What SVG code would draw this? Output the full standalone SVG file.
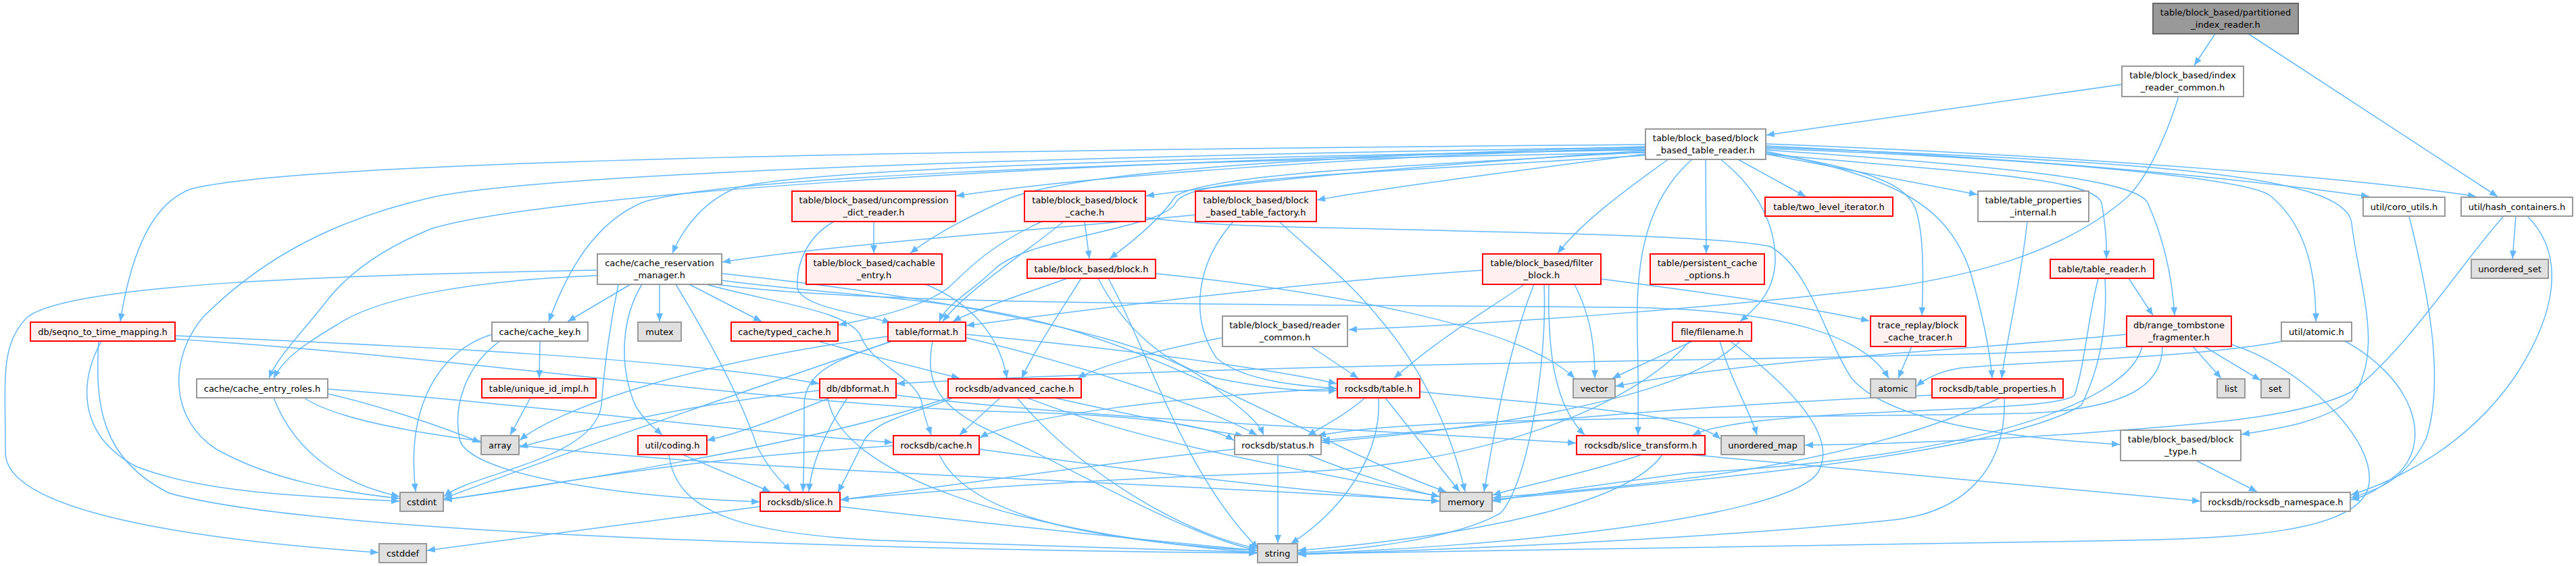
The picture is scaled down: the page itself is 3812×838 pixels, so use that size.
<svg xmlns="http://www.w3.org/2000/svg" width="3812" height="838" viewBox="0 0 3812 838">
<style>
.e{fill:none;stroke:#63b8ff;stroke-width:1.5;marker-end:url(#ah)}
rect{stroke-width:2}
.w rect{fill:#ffffff;stroke:#999999}
.g rect{fill:#e0e0e0;stroke:#999999}
.r rect{fill:#fff0f0;stroke:#ff0000}
.k rect{fill:#999999;stroke:#666666}
text{font-family:"DejaVu Sans","Liberation Sans",sans-serif;font-size:13px;text-anchor:middle;fill:#000000}
</style>
<defs>
<marker id="ah" viewBox="0 0 12 10" refX="12" refY="5" markerWidth="12" markerHeight="10" markerUnits="userSpaceOnUse" orient="auto"><path d="M0,0L12,5L0,10z" fill="#63b8ff"/></marker>
</defs>
<rect width="3812" height="838" fill="#ffffff" stroke="none"/>
<g id="edges">
<path class="e" d="M3278,50L3247,97"/>
<path class="e" d="M3327,50L3696,291"/>
<path class="e" d="M3140,125L2614,200"/>
<path class="e" d="M3224,143C3200,220 3170,270 3150,290C3050,380 2900,410 2800,425C2500,460 2200,480 1996,488"/>
<path class="e" d="M2435,222C1800,232 1200,248 1090,278C1040,298 1010,340 995,375"/>
<path class="e" d="M2435,219C2000,232 1600,262 1415,290"/>
<path class="e" d="M2435,223C2150,242 1900,262 1696,290"/>
<path class="e" d="M2435,228C2250,252 2050,278 1949,296"/>
<path class="e" d="M2570,235L2672,291"/>
<path class="e" d="M2613,228L2926,288"/>
<path class="e" d="M2613,216C3000,235 3300,262 3506,291"/>
<path class="e" d="M2613,213C3100,232 3500,265 3664,291"/>
<path class="e" d="M2435,214C1500,222 450,235 282,280C215,305 190,400 178,476"/>
<path class="e" d="M2435,217C2000,230 1600,250 1490,295C1440,318 1385,345 1347,375"/>
<path class="e" d="M2435,225C2100,245 1800,255 1740,290C1720,320 1680,355 1642,383"/>
<path class="e" d="M2470,235C2400,285 2340,330 2305,375"/>
<path class="e" d="M2524,235L2525,375"/>
<path class="e" d="M2613,228C2900,255 3095,262 3110,300C3115,330 3118,360 3117,383"/>
<path class="e" d="M2435,226C1600,240 1050,265 950,300C880,330 840,400 812,476"/>
<path class="e" d="M2435,230C2000,258 1760,262 1740,300C1720,340 1520,350 1470,400C1440,430 1400,450 1390,476"/>
<path class="e" d="M2545,235C2590,270 2625,320 2627,380C2628,430 2600,455 2575,476"/>
<path class="e" d="M2613,226C2760,250 2820,270 2835,310C2848,350 2846,420 2844,467"/>
<path class="e" d="M2613,222C3000,248 3160,268 3178,300C3205,360 3215,420 3218,467"/>
<path class="e" d="M2613,220C3100,238 3330,268 3360,290C3420,340 3427,420 3427,476"/>
<path class="e" d="M2613,224C2800,262 2880,300 2915,400C2935,470 2945,520 2948,560"/>
<path class="e" d="M2613,218C3200,240 3470,260 3480,330C3490,420 3530,520 3480,590C3440,625 3370,635 3317,643"/>
<path class="e" d="M2505,235C2430,300 2420,400 2423,500C2425,570 2424,610 2424,644"/>
<path class="e" d="M2435,221C1500,240 800,290 640,338C560,370 510,410 480,450C440,500 410,530 398,560"/>
<path class="e" d="M2435,218C1500,232 800,258 640,292C470,330 370,400 300,470C250,530 250,620 320,665C400,710 500,728 591,738"/>
<path class="e" d="M884,400C500,407 100,420 40,470C0,510 8,560 8,670C8,760 300,800 560,818"/>
<path class="e" d="M884,408C700,415 560,440 500,480C450,510 420,530 405,560"/>
<path class="e" d="M933,421L840,476"/>
<path class="e" d="M976,421L976,476"/>
<path class="e" d="M1020,421L1127,476"/>
<path class="e" d="M950,421C920,470 915,540 940,600C955,625 970,635 980,644"/>
<path class="e" d="M915,421C905,470 895,530 890,600C880,680 700,700 657,735"/>
<path class="e" d="M1045,421C1150,450 1260,460 1275,500C1290,540 1360,560 1365,600C1368,620 1375,635 1378,644"/>
<path class="e" d="M1000,421C1060,520 1100,600 1120,660C1140,700 1160,715 1170,728"/>
<path class="e" d="M1068,405C1400,440 1700,500 1780,560C1830,600 1860,620 1870,644"/>
<path class="e" d="M1060,421C1300,455 2000,450 2400,455C2650,458 2760,500 2795,560"/>
<path class="e" d="M1068,415C1250,440 1450,440 1620,500C1800,560 2000,680 2140,728"/>
<path class="e" d="M1293,328L1293,375"/>
<path class="e" d="M1234,328C1195,350 1178,390 1180,425C1182,455 1280,465 1318,478"/>
<path class="e" d="M1605,328L1612,383"/>
<path class="e" d="M1542,328C1470,360 1430,400 1410,420C1380,450 1300,470 1241,481"/>
<path class="e" d="M1574,328C1510,380 1430,430 1395,476"/>
<path class="e" d="M1695,322C1780,334 1900,336 2000,338C2300,345 2550,350 2620,365C2680,400 2700,500 2740,560C2800,630 3000,650 3137,658"/>
<path class="e" d="M1769,318C1550,340 1250,360 1069,388"/>
<path class="e" d="M1825,328C1770,390 1760,470 1800,530C1840,565 1930,572 1978,575"/>
<path class="e" d="M1893,328C1950,380 2000,420 2040,470C2110,550 2150,650 2168,728"/>
<path class="e" d="M259,497C600,512 1000,530 1212,568"/>
<path class="e" d="M259,502C700,530 1150,600 1500,610C1700,615 1790,630 1826,652"/>
<path class="e" d="M150,505C120,560 110,640 200,690C300,730 450,735 591,742"/>
<path class="e" d="M146,505C140,600 150,680 250,730C500,800 1500,815 1860,819"/>
<path class="e" d="M1370,421C1440,450 1480,500 1490,560"/>
<path class="e" d="M1580,412C1500,440 1440,460 1410,476"/>
<path class="e" d="M1600,412C1570,460 1530,520 1512,560"/>
<path class="e" d="M1625,412C1660,480 1720,540 1800,560C1900,580 1950,580 1978,578"/>
<path class="e" d="M1710,405C1950,430 2250,480 2330,560"/>
<path class="e" d="M1640,412C1700,520 1750,700 1862,812"/>
<path class="e" d="M2256,421C2200,460 2130,500 2063,560"/>
<path class="e" d="M2270,421C2230,520 2210,650 2196,728"/>
<path class="e" d="M2285,421C2290,540 2260,720 2220,760C2150,800 2000,815 1921,818"/>
<path class="e" d="M2292,421C2290,520 2300,600 2345,644"/>
<path class="e" d="M2330,421C2350,460 2360,500 2360,560"/>
<path class="e" d="M2194,400C1900,420 1600,460 1430,482"/>
<path class="e" d="M2369,413C2500,430 2650,450 2766,475"/>
<path class="e" d="M3150,412L3186,467"/>
<path class="e" d="M3105,412C3090,470 3085,540 3070,585C3040,615 2600,600 2505,644"/>
<path class="e" d="M3115,412C3120,500 3100,560 3080,600C2950,680 2400,720 2209,740"/>
<path class="e" d="M799,505L798,560"/>
<path class="e" d="M728,495C650,520 600,600 615,728"/>
<path class="e" d="M740,505C690,540 670,600 680,650C690,700 900,735 1124,743"/>
<path class="e" d="M785,589L755,644"/>
<path class="e" d="M1210,505C1300,530 1380,550 1420,560"/>
<path class="e" d="M1429,495C1700,520 1900,550 1978,568"/>
<path class="e" d="M1429,500C1600,540 1780,600 1860,644"/>
<path class="e" d="M1320,505C1250,530 1190,545 1190,600C1190,650 1190,700 1188,728"/>
<path class="e" d="M1314,498C1000,540 820,610 769,652"/>
<path class="e" d="M1213,578C1000,600 850,640 769,662"/>
<path class="e" d="M1320,505C1100,580 780,690 657,738"/>
<path class="e" d="M1380,505C1370,560 1380,600 1470,640C1600,700 1750,790 1860,815"/>
<path class="e" d="M1940,513L2010,560"/>
<path class="e" d="M1809,500C1700,520 1620,545 1595,560"/>
<path class="e" d="M2505,505L2386,560"/>
<path class="e" d="M2545,505C2560,560 2590,610 2600,644"/>
<path class="e" d="M2575,505C2520,560 2400,590 2300,610C2150,640 2000,650 1956,655"/>
<path class="e" d="M2560,505C2660,580 2720,650 2690,700C2640,770 2200,810 1921,820"/>
<path class="e" d="M2500,505C2420,600 2200,690 1900,700C1600,710 1400,725 1244,740"/>
<path class="e" d="M2829,513L2809,560"/>
<path class="e" d="M3245,513L3287,560"/>
<path class="e" d="M3262,513L3345,563"/>
<path class="e" d="M3170,513C3150,600 2900,680 2500,700C2350,720 2250,735 2209,742"/>
<path class="e" d="M3302,510C3400,540 3520,650 3505,720C3490,790 3300,797 3150,800C2600,810 2100,818 1921,820"/>
<path class="e" d="M3147,495C2900,520 2600,530 2391,572"/>
<path class="e" d="M3160,513C2900,535 2000,530 1327,568"/>
<path class="e" d="M3200,513C3200,570 3150,605 3000,612C2600,620 2100,615 1950,645"/>
<path class="e" d="M3380,505C3250,530 3000,535 2900,545C2870,550 2850,560 2836,572"/>
<path class="e" d="M3470,505C3570,560 3600,650 3550,700C3520,725 3500,735 3479,740"/>
<path class="e" d="M405,589C440,680 520,720 591,735"/>
<path class="e" d="M485,583C560,600 650,630 711,655"/>
<path class="e" d="M485,576C800,600 1100,640 1321,655"/>
<path class="e" d="M450,589C600,690 1500,700 2130,742"/>
<path class="e" d="M1228,589C1150,620 1100,640 1046,652"/>
<path class="e" d="M1254,589C1220,640 1200,690 1197,728"/>
<path class="e" d="M1326,585C1600,620 2100,640 2332,656"/>
<path class="e" d="M1225,589C1240,700 1500,790 1860,818"/>
<path class="e" d="M1480,589L1420,644"/>
<path class="e" d="M1560,589C1700,620 1800,640 1840,645"/>
<path class="e" d="M1410,589C1360,610 1300,620 1280,650C1260,690 1250,710 1240,729"/>
<path class="e" d="M1403,589C1200,660 800,720 657,740"/>
<path class="e" d="M1520,589C1700,660 1950,700 2130,735"/>
<path class="e" d="M1505,589C1600,700 1750,790 1860,812"/>
<path class="e" d="M2020,589C1990,615 1960,630 1935,645"/>
<path class="e" d="M2050,589C2090,640 2130,690 2160,728"/>
<path class="e" d="M2040,589C2045,680 1980,760 1910,805"/>
<path class="e" d="M2101,580C2300,600 2500,610 2546,650"/>
<path class="e" d="M1979,575C1700,590 1500,620 1450,648"/>
<path class="e" d="M3000,328C2990,420 2970,500 2962,560"/>
<path class="e" d="M2960,589C2720,700 2400,720 2209,737"/>
<path class="e" d="M2966,589C2970,700 2900,760 2800,770C2500,800 2100,815 1921,821"/>
<path class="e" d="M2859,585C2500,600 2200,630 1956,652"/>
<path class="e" d="M1010,673L1140,728"/>
<path class="e" d="M990,673C1000,760 1100,790 1300,800C1600,810 1750,815 1860,818"/>
<path class="e" d="M1449,665C1700,700 1950,730 2130,742"/>
<path class="e" d="M1390,673C1430,760 1600,800 1860,815"/>
<path class="e" d="M1322,660C1000,680 800,720 657,740"/>
<path class="e" d="M1827,665C1600,690 1400,720 1244,740"/>
<path class="e" d="M1935,673C2000,700 2080,725 2130,735"/>
<path class="e" d="M1891,673L1891,804"/>
<path class="e" d="M2430,673C2350,700 2250,720 2209,733"/>
<path class="e" d="M2460,673C2400,760 2100,800 1921,815"/>
<path class="e" d="M2500,673C2800,700 3100,730 3256,742"/>
<path class="e" d="M3250,682L3340,728"/>
<path class="e" d="M1125,750C900,780 700,805 632,815"/>
<path class="e" d="M1243,750C1500,780 1750,805 1860,815"/>
<path class="e" d="M3723,320L3718,383"/>
<path class="e" d="M3705,320C3650,380 3560,520 3480,580C3400,620 3250,628 3100,640C2900,655 2750,658 2671,659"/>
<path class="e" d="M3740,320C3800,380 3780,470 3720,560C3650,660 3550,710 3479,733"/>
<path class="e" d="M3565,320C3590,420 3620,560 3590,650C3560,710 3520,725 3479,737"/>
</g>
<g id="n0" class="k"><rect x="3186" y="5" width="215" height="45"/><text x="3293.5" y="23.3">table/block_based/partitioned</text><text x="3293.5" y="40.7">_index_reader.h</text></g>
<g id="n1" class="w"><rect x="3140" y="98" width="180" height="45"/><text x="3230" y="116.3">table/block_based/index</text><text x="3230" y="133.7">_reader_common.h</text></g>
<g id="n2" class="w"><rect x="2435" y="191" width="178" height="45"/><text x="2524" y="209.3">table/block_based/block</text><text x="2524" y="226.7">_based_table_reader.h</text></g>
<g id="n3" class="w"><rect x="884" y="376" width="184" height="45"/><text x="976" y="394.3">cache/cache_reservation</text><text x="976" y="411.7">_manager.h</text></g>
<g id="n4" class="r"><rect x="1172" y="283" width="242" height="45"/><text x="1293" y="301.3">table/block_based/uncompression</text><text x="1293" y="318.7">_dict_reader.h</text></g>
<g id="n5" class="r"><rect x="1516" y="283" width="179" height="45"/><text x="1605.5" y="301.3">table/block_based/block</text><text x="1605.5" y="318.7">_cache.h</text></g>
<g id="n6" class="r"><rect x="1769" y="283" width="179" height="45"/><text x="1858.5" y="301.3">table/block_based/block</text><text x="1858.5" y="318.7">_based_table_factory.h</text></g>
<g id="n7" class="r"><rect x="2612" y="292" width="189" height="28"/><text x="2706.5" y="310.5">table/two_level_iterator.h</text></g>
<g id="n8" class="w"><rect x="2927" y="283" width="164" height="45"/><text x="3009" y="301.3">table/table_properties</text><text x="3009" y="318.7">_internal.h</text></g>
<g id="n9" class="w"><rect x="3497" y="292" width="121" height="28"/><text x="3557.5" y="310.5">util/coro_utils.h</text></g>
<g id="n10" class="w"><rect x="3642" y="292" width="165" height="28"/><text x="3724.5" y="310.5">util/hash_containers.h</text></g>
<g id="n11" class="g"><rect x="3657" y="384" width="114" height="28"/><text x="3714" y="402.5">unordered_set</text></g>
<g id="n12" class="r"><rect x="45" y="477" width="214" height="28"/><text x="152" y="495.5">db/seqno_to_time_mapping.h</text></g>
<g id="n13" class="r"><rect x="1193" y="376" width="201" height="45"/><text x="1293.5" y="394.3">table/block_based/cachable</text><text x="1293.5" y="411.7">_entry.h</text></g>
<g id="n14" class="r"><rect x="1520" y="384" width="190" height="28"/><text x="1615" y="402.5">table/block_based/block.h</text></g>
<g id="n15" class="r"><rect x="2194" y="376" width="175" height="45"/><text x="2281.5" y="394.3">table/block_based/filter</text><text x="2281.5" y="411.7">_block.h</text></g>
<g id="n16" class="r"><rect x="2442" y="376" width="169" height="45"/><text x="2526.5" y="394.3">table/persistent_cache</text><text x="2526.5" y="411.7">_options.h</text></g>
<g id="n17" class="r"><rect x="3034" y="384" width="153" height="28"/><text x="3110.5" y="402.5">table/table_reader.h</text></g>
<g id="n18" class="w"><rect x="728" y="477" width="142" height="28"/><text x="799" y="495.5">cache/cache_key.h</text></g>
<g id="n19" class="g"><rect x="944" y="477" width="64" height="28"/><text x="976" y="495.5">mutex</text></g>
<g id="n20" class="r"><rect x="1082" y="477" width="158" height="28"/><text x="1161" y="495.5">cache/typed_cache.h</text></g>
<g id="n21" class="r"><rect x="1314" y="477" width="115" height="28"/><text x="1371.5" y="495.5">table/format.h</text></g>
<g id="n22" class="w"><rect x="1809" y="468" width="185" height="45"/><text x="1901.5" y="486.3">table/block_based/reader</text><text x="1901.5" y="503.7">_common.h</text></g>
<g id="n23" class="r"><rect x="2475" y="477" width="117" height="28"/><text x="2533.5" y="495.5">file/filename.h</text></g>
<g id="n24" class="r"><rect x="2768" y="468" width="141" height="45"/><text x="2838.5" y="486.3">trace_replay/block</text><text x="2838.5" y="503.7">_cache_tracer.h</text></g>
<g id="n25" class="r"><rect x="3147" y="468" width="155" height="45"/><text x="3224.5" y="486.3">db/range_tombstone</text><text x="3224.5" y="503.7">_fragmenter.h</text></g>
<g id="n26" class="w"><rect x="3376" y="477" width="104" height="28"/><text x="3428" y="495.5">util/atomic.h</text></g>
<g id="n27" class="w"><rect x="291" y="561" width="194" height="28"/><text x="388" y="579.5">cache/cache_entry_roles.h</text></g>
<g id="n28" class="r"><rect x="713" y="561" width="169" height="28"/><text x="797.5" y="579.5">table/unique_id_impl.h</text></g>
<g id="n29" class="r"><rect x="1213" y="561" width="113" height="28"/><text x="1269.5" y="579.5">db/dbformat.h</text></g>
<g id="n30" class="r"><rect x="1403" y="561" width="197" height="28"/><text x="1501.5" y="579.5">rocksdb/advanced_cache.h</text></g>
<g id="n31" class="r"><rect x="1979" y="561" width="122" height="28"/><text x="2040" y="579.5">rocksdb/table.h</text></g>
<g id="n32" class="g"><rect x="2328" y="561" width="62" height="28"/><text x="2359" y="579.5">vector</text></g>
<g id="n33" class="g"><rect x="2768" y="561" width="67" height="28"/><text x="2801.5" y="579.5">atomic</text></g>
<g id="n34" class="r"><rect x="2859" y="561" width="194" height="28"/><text x="2956" y="579.5">rocksdb/table_properties.h</text></g>
<g id="n35" class="g"><rect x="3281" y="561" width="41" height="28"/><text x="3301.5" y="579.5">list</text></g>
<g id="n36" class="g"><rect x="3346" y="561" width="42" height="28"/><text x="3367" y="579.5">set</text></g>
<g id="n37" class="g"><rect x="712" y="645" width="56" height="28"/><text x="740" y="663.5">array</text></g>
<g id="n38" class="r"><rect x="944" y="645" width="102" height="28"/><text x="995" y="663.5">util/coding.h</text></g>
<g id="n39" class="r"><rect x="1322" y="645" width="127" height="28"/><text x="1385.5" y="663.5">rocksdb/cache.h</text></g>
<g id="n40" class="w"><rect x="1827" y="645" width="128" height="28"/><text x="1891" y="663.5">rocksdb/status.h</text></g>
<g id="n41" class="r"><rect x="2333" y="645" width="190" height="28"/><text x="2428" y="663.5">rocksdb/slice_transform.h</text></g>
<g id="n42" class="g"><rect x="2547" y="645" width="123" height="28"/><text x="2608.5" y="663.5">unordered_map</text></g>
<g id="n43" class="w"><rect x="3138" y="637" width="178" height="45"/><text x="3227" y="655.3">table/block_based/block</text><text x="3227" y="672.7">_type.h</text></g>
<g id="n44" class="g"><rect x="592" y="729" width="64" height="28"/><text x="624" y="747.5">cstdint</text></g>
<g id="n45" class="r"><rect x="1125" y="729" width="118" height="28"/><text x="1184" y="747.5">rocksdb/slice.h</text></g>
<g id="n46" class="g"><rect x="2131" y="729" width="77" height="28"/><text x="2169.5" y="747.5">memory</text></g>
<g id="n47" class="w"><rect x="3257" y="729" width="221" height="28"/><text x="3367.5" y="747.5">rocksdb/rocksdb_namespace.h</text></g>
<g id="n48" class="g"><rect x="561" y="805" width="70" height="28"/><text x="596" y="823.5">cstddef</text></g>
<g id="n49" class="g"><rect x="1861" y="805" width="59" height="28"/><text x="1890.5" y="823.5">string</text></g>
</svg>
